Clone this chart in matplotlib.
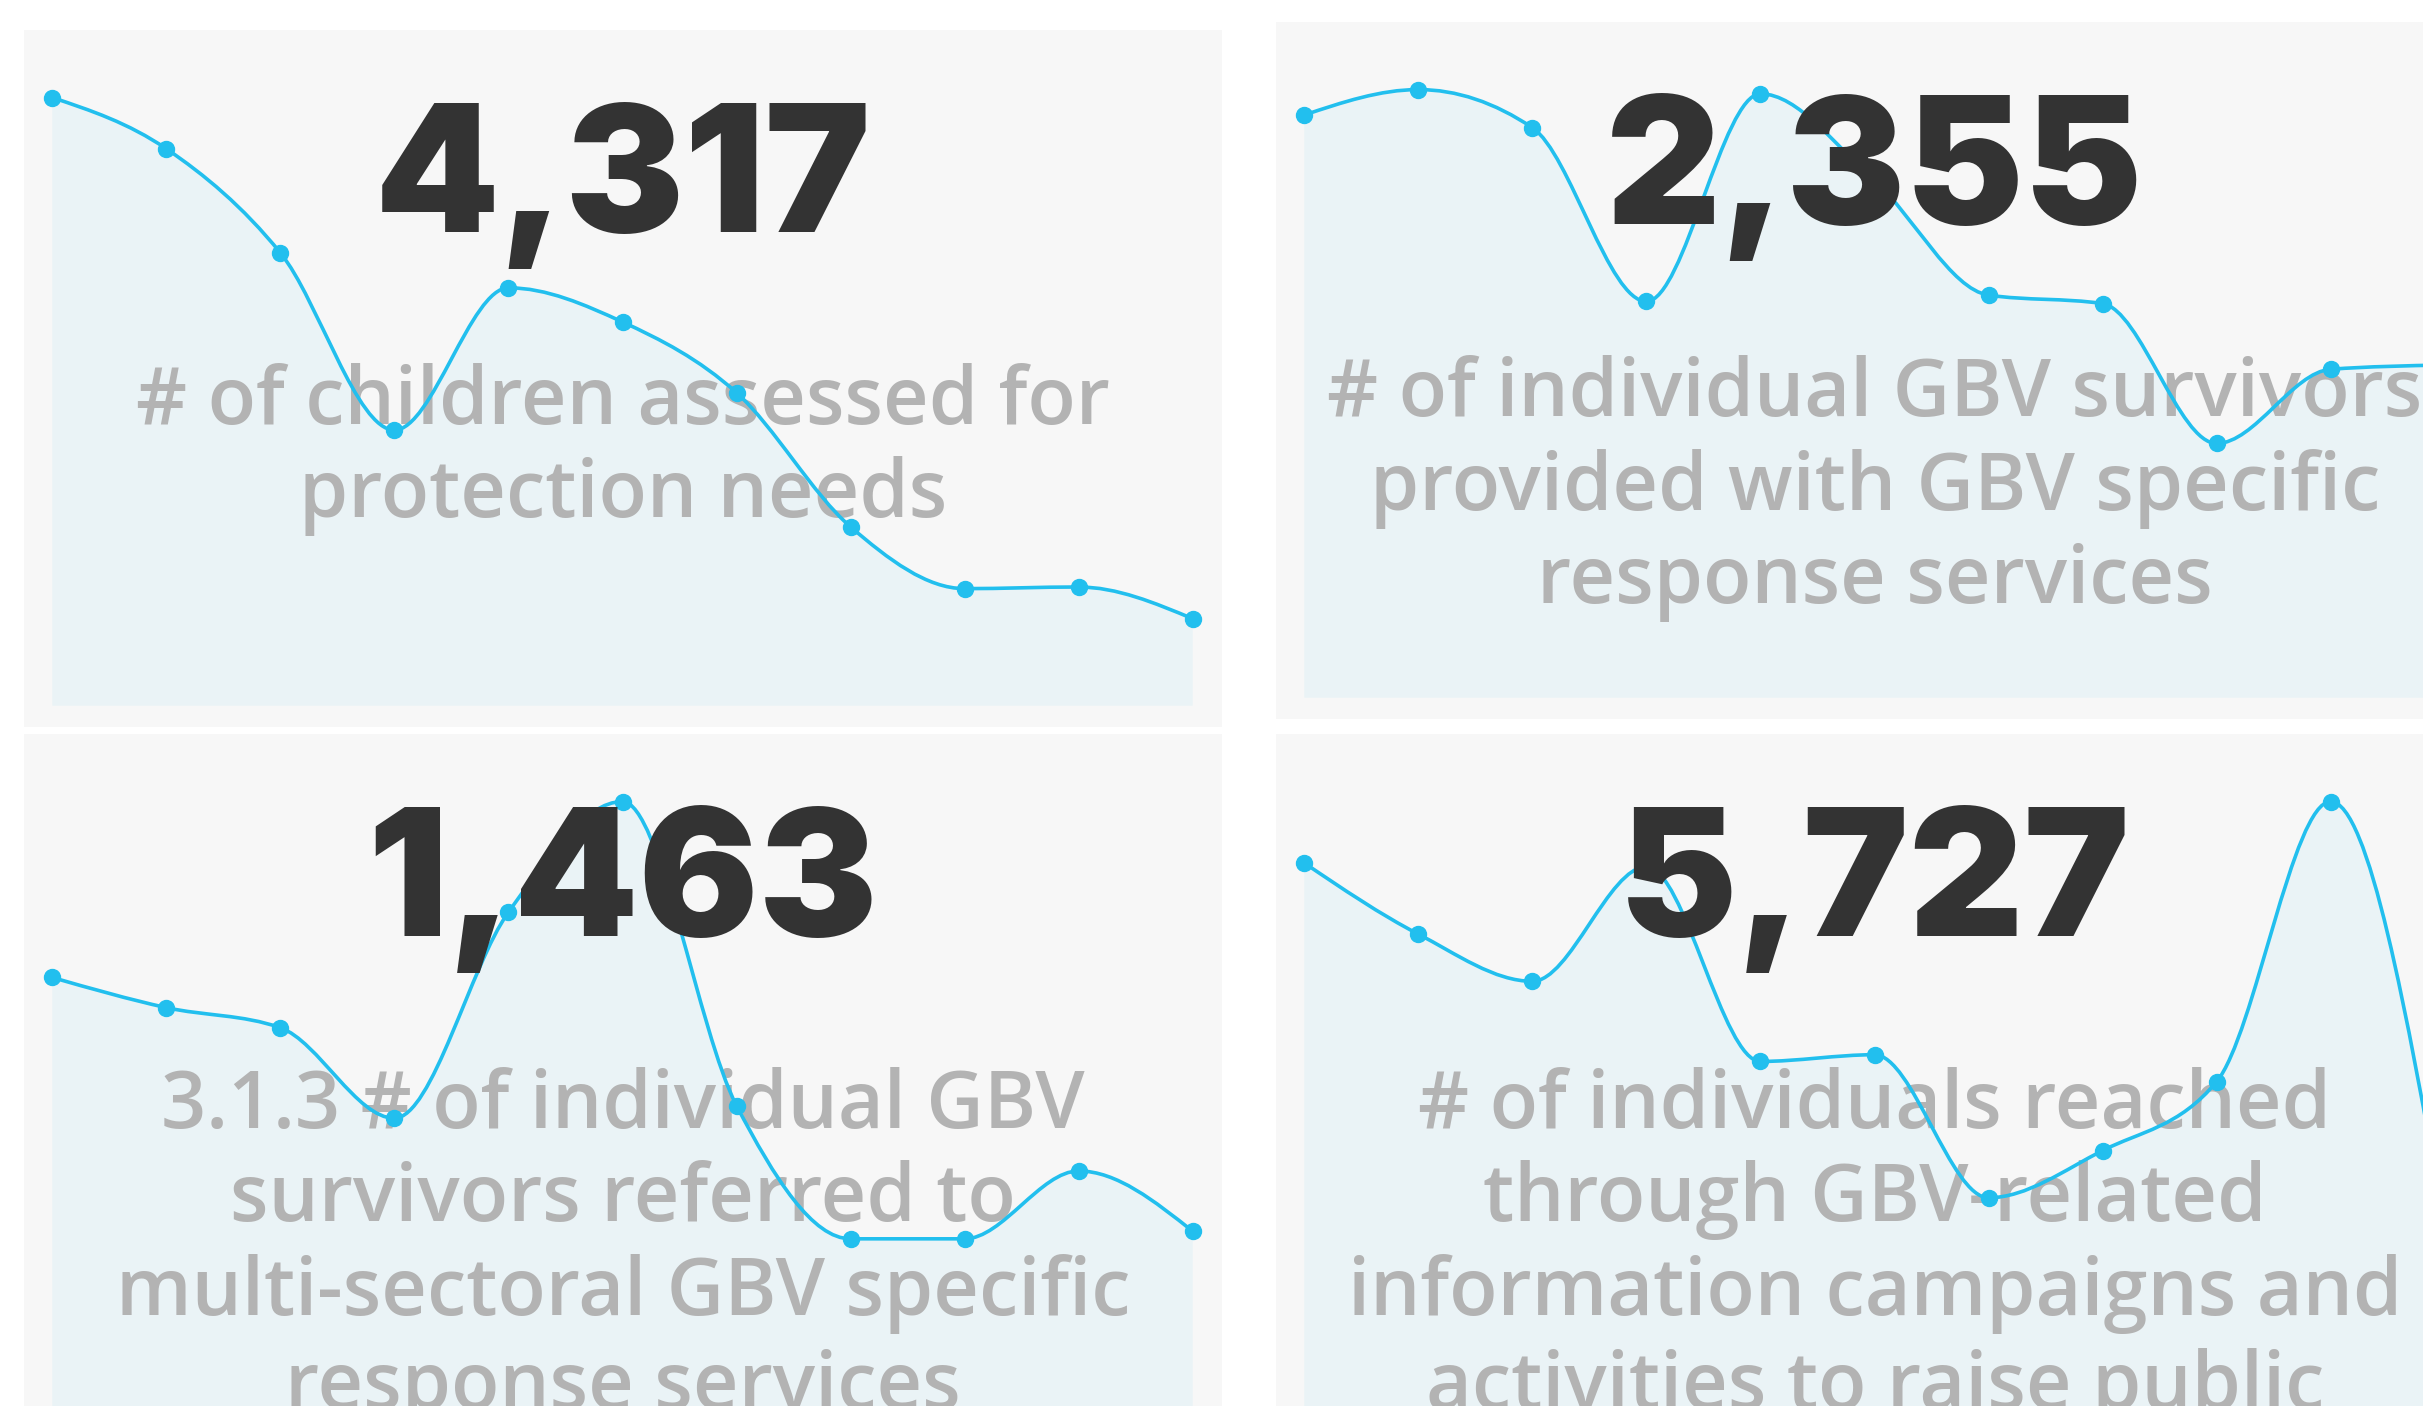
import numpy as np
import matplotlib
matplotlib.use("Agg")
import matplotlib.pyplot as plt
from matplotlib.path import Path
from matplotlib.patches import PathPatch, Rectangle

plt.rcParams['font.family'] = ['Open Sans', 'DejaVu Sans']

totals = ["4,317", "2,355", "1,463", "5,727"]

children_assessed = [748, 685, 557, 339, 514, 472, 385, 220, 144, 146, 107]
gbv_response = [275, 287, 269, 187, 285, 244, 190, 186, 120, 155, 157]
gbv_referred = [172, 160, 152, 116, 198, 242, 121, 68, 68, 95, 71]
gbv_reached = [730, 635, 572, 725, 465, 474, 283, 346, 438, 812, 247]

titles = [
    ["# of children assessed for", "protection needs"],
    ["# of individual GBV survivors", "provided with GBV specific", "response services"],
    ["3.1.3 # of individual GBV", "survivors referred to",
     "multi-sectoral GBV specific", "response services"],
    ["# of individuals reached", "through GBV-related",
     "information campaigns and", "activities to raise public"],
]

W, H = 2423, 1406
LINE = '#22bfee'
FILL = '#eaf3f6'
CARD = '#f7f7f7'


def px(x, y):
    # pixel (top-left origin) -> figure fraction
    return x / W, 1 - y / H


def monotone_path(x, y, close=False):
    # cubic bezier through the points, monotone in x (like d3 curveMonotoneX)
    x = np.asarray(x, float)
    y = np.asarray(y, float)
    n = len(x)
    h = np.diff(x)
    s = np.diff(y) / h
    t = np.zeros(n)
    for i in range(1, n - 1):
        p = (s[i - 1] * h[i] + s[i] * h[i - 1]) / (h[i - 1] + h[i])
        t[i] = (np.sign(s[i - 1]) + np.sign(s[i])) * min(abs(s[i - 1]), abs(s[i]), 0.5 * abs(p))
    t[0] = (3 * s[0] - t[1]) / 2
    t[-1] = (3 * s[-1] - t[-2]) / 2

    verts, codes = [], []
    if close:
        verts += [(x[0], 0), (x[0], y[0])]
        codes += [Path.MOVETO, Path.LINETO]
    else:
        verts.append((x[0], y[0]))
        codes.append(Path.MOVETO)
    for i in range(n - 1):
        dx = h[i] / 3
        verts += [(x[i] + dx, y[i] + dx * t[i]),
                  (x[i + 1] - dx, y[i + 1] - dx * t[i + 1]),
                  (x[i + 1], y[i + 1])]
        codes += [Path.CURVE4] * 3
    if close:
        verts += [(x[-1], 0), (x[0], 0)]
        codes += [Path.LINETO, Path.CLOSEPOLY]
    return Path(verts, codes)


def card(fig, left, top, values, total, lines):
    box_w, box_h = 1198, 697
    fig.add_artist(Rectangle(px(left, top + box_h), box_w / W, box_h / H,
                             transform=fig.transFigure, facecolor=CARD,
                             edgecolor='none', zorder=0))

    base = top + 675.7
    x0, y0 = px(left + 28.3, base)
    ax = fig.add_axes([x0, y0, 1140.4 / W, 675.7 / H])
    ax.set_facecolor('none')
    ax.axis('off')

    xs = np.arange(len(values))
    ax.set_xlim(0, len(values) - 1)
    ax.set_ylim(0, max(values) / 0.9)

    ax.add_patch(PathPatch(monotone_path(xs, values, close=True),
                           facecolor=FILL, edgecolor='none', zorder=1))
    ax.add_patch(PathPatch(monotone_path(xs, values), facecolor='none',
                           edgecolor=LINE, lw=2.6, zorder=3, clip_on=False))
    ax.plot(xs, values, 'o', color=LINE, ms=11.5, zorder=4, clip_on=False)

    cx = left + box_w / 2
    for i, line in enumerate(lines):
        tx, ty = px(cx, top + 394 + i * 93.5)
        ax.text(tx, ty, line, transform=fig.transFigure, ha='center',
                va='baseline', fontsize=57, fontweight='semibold',
                color='#b3b3b3', zorder=2)

    tx, ty = px(cx, top + 202)
    ax.text(tx, ty, total, transform=fig.transFigure, ha='center',
            va='baseline', fontsize=128, fontweight='black',
            family=['Inter', 'Liberation Sans'], color='#333333', zorder=5)


fig = plt.figure(figsize=(W / 100, H / 100), dpi=100, facecolor='white')

card(fig, 24, 30, children_assessed, totals[0], titles[0])
card(fig, 1276, 22, gbv_response, totals[1], titles[1])
card(fig, 24, 734, gbv_referred, totals[2], titles[2])
card(fig, 1276, 734, gbv_reached, totals[3], titles[3])

fig.savefig('out.png', dpi=100, facecolor='white')
